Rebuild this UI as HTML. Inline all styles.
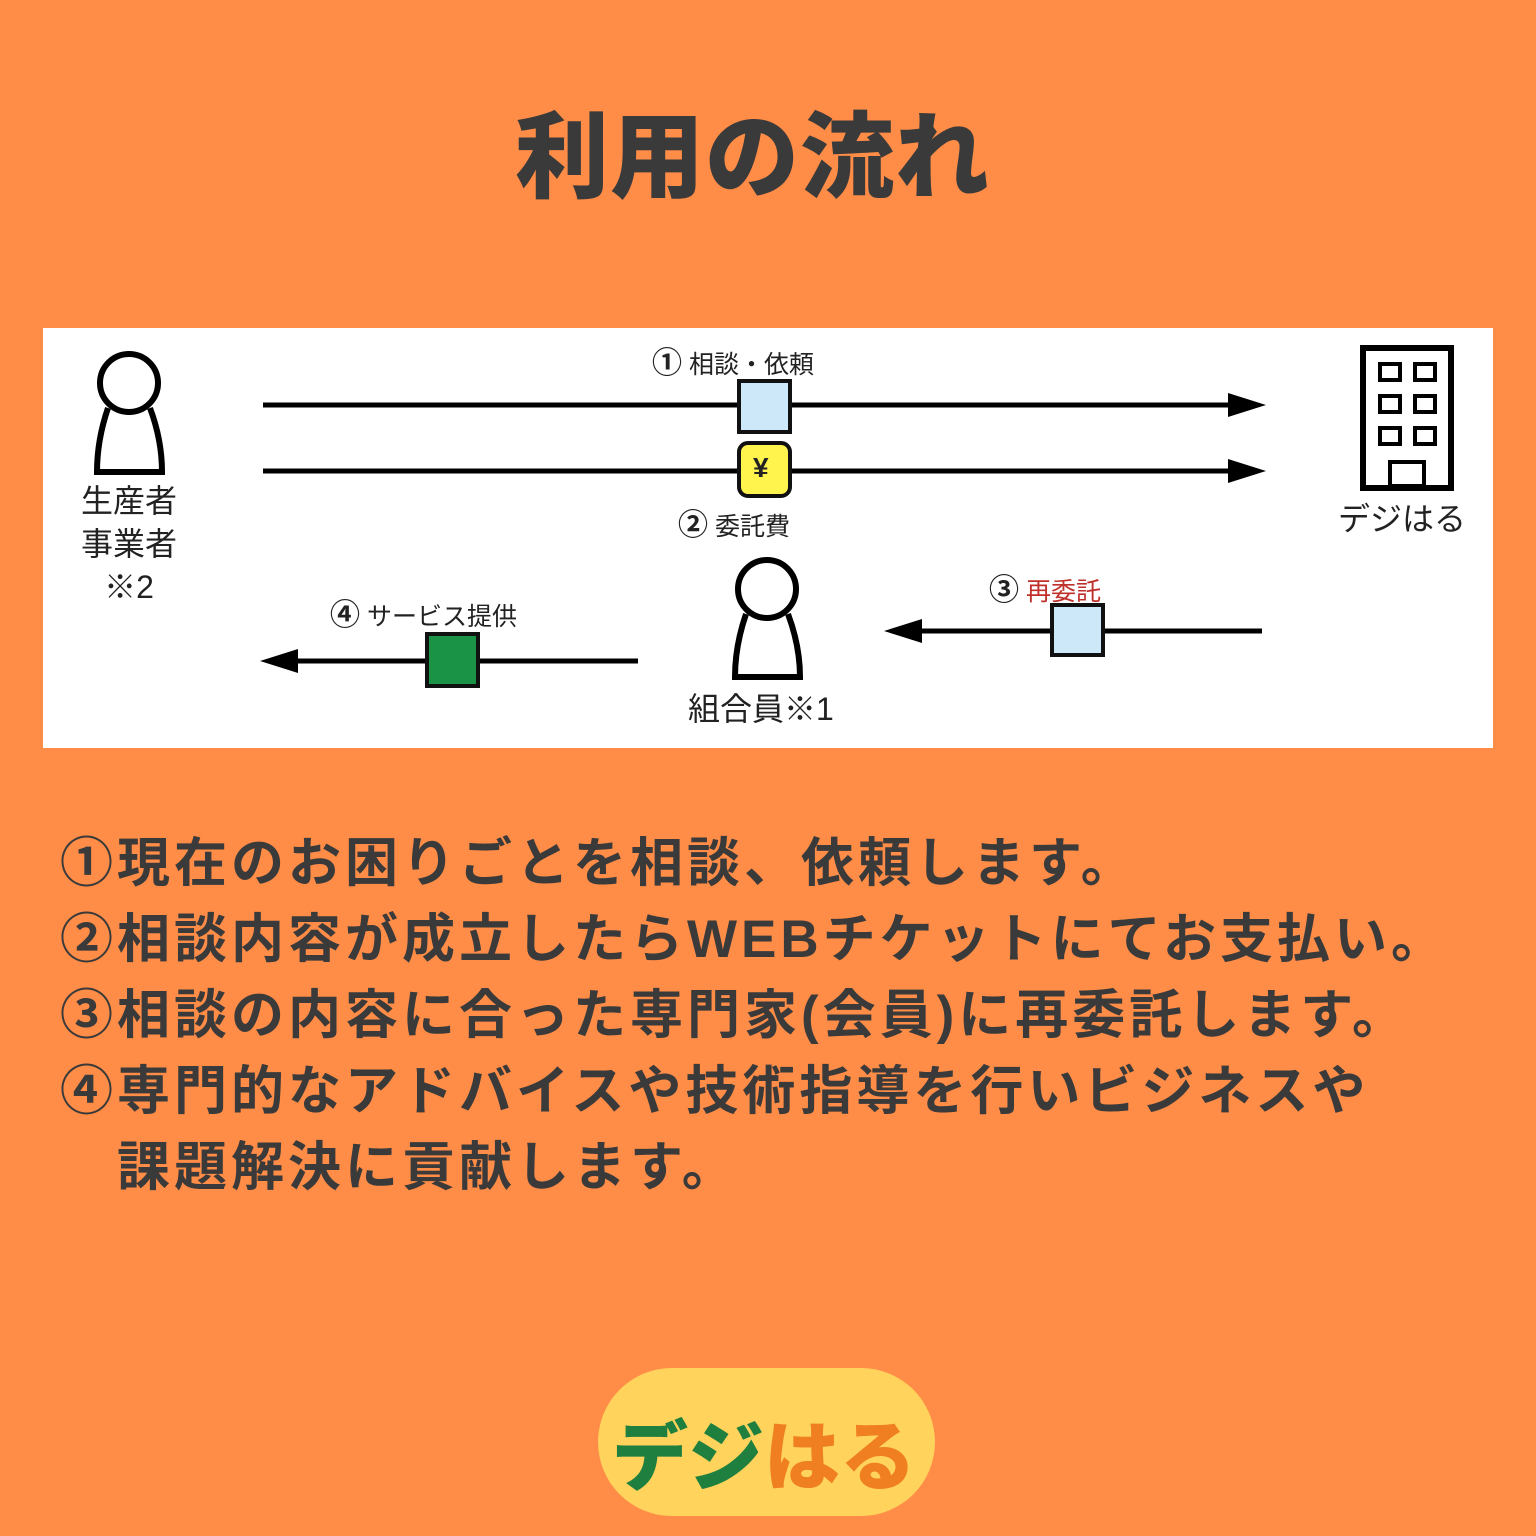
<!DOCTYPE html>
<html><head><meta charset="utf-8"><style>
body{margin:0;width:1536px;height:1536px;background:#FF8C47;position:relative;overflow:hidden;font-family:"Liberation Sans","Noto Sans CJK JP",sans-serif;color:#333}
.t{position:absolute;white-space:nowrap}
</style></head><body>
<div class="t" style="left:515px;top:82px;font-size:94px;font-weight:900;letter-spacing:1px;color:#3a3a3a">利用の流れ</div>
<svg style="position:absolute;left:0;top:0" width="1536" height="1536">
<rect x="43" y="328" width="1450" height="420" fill="#fff"/>
<g fill="none" stroke="#000" stroke-width="6">
<circle cx="129" cy="383" r="29"/>
<path d="M108 408 Q97 440 97 472 L162 472 Q162 440 150 408"/>
<circle cx="767" cy="589" r="29"/>
<path d="M746 614 Q735 646 735 677 L800 677 Q800 646 788 614"/>
<rect x="1363" y="348" width="88" height="140"/>
</g>
<g fill="none" stroke="#000" stroke-width="4">
<rect x="1380" y="364" width="20" height="16"/><rect x="1415" y="364" width="20" height="16"/>
<rect x="1380" y="396" width="20" height="16"/><rect x="1415" y="396" width="20" height="16"/>
<rect x="1380" y="428" width="20" height="16"/><rect x="1415" y="428" width="20" height="16"/>
<rect x="1390" y="462" width="34" height="24"/>
</g>
<g stroke="#000" stroke-width="5">
<line x1="263" y1="405" x2="1235" y2="405"/>
<line x1="263" y1="471" x2="1235" y2="471"/>
<line x1="915" y1="631" x2="1262" y2="631"/>
<line x1="290" y1="661" x2="638" y2="661"/>
</g>
<g fill="#000">
<polygon points="1266,405 1228,393 1228,417"/>
<polygon points="1266,471 1228,459 1228,483"/>
<polygon points="884,631 922,619 922,643"/>
<polygon points="260,661 298,649 298,673"/>
</g>
<rect x="739" y="381" width="51" height="51" fill="#CDE8F8" stroke="#111" stroke-width="4"/>
<rect x="739" y="443" width="51" height="53" rx="9" fill="#FFF44D" stroke="#111" stroke-width="4"/>
<rect x="1052" y="605" width="51" height="50" fill="#CDE8F8" stroke="#111" stroke-width="4"/>
<rect x="427" y="634" width="51" height="52" fill="#1B9347" stroke="#111" stroke-width="4"/>
<rect x="598" y="1368" width="337" height="148" rx="74" fill="#FFD35C"/>
</svg>
<div class="t" style="left:753px;top:452px;font-size:28px;font-weight:bold;color:#222">¥</div>
<div class="t" style="left:652px;top:338px;font-size:25px;color:#222"><b style="font-size:30px">①</b> 相談・依頼</div>
<div class="t" style="left:678px;top:500px;font-size:25px;color:#222"><b style="font-size:30px">②</b> 委託費</div>
<div class="t" style="left:989px;top:565px;font-size:25px;color:#222"><b style="font-size:30px">③</b> <span style="color:#C0302A">再委託</span></div>
<div class="t" style="left:330px;top:590px;font-size:25px;color:#222"><b style="font-size:30px">④</b> サービス提供</div>
<div class="t" style="left:76px;top:480px;font-size:32px;line-height:43px;text-align:center;color:#222;width:106px">生産者<br>事業者<br>※2</div>
<div class="t" style="left:688px;top:684px;font-size:32px;color:#222">組合員※1</div>
<div class="t" style="left:1338px;top:494px;font-size:32px;color:#222">デジはる</div>
<div class="t" style="left:60px;top:826px;font-size:53px;line-height:76px;font-weight:bold;letter-spacing:4px;color:#3a3a3a">①現在のお困りごとを相談、依頼します。<br>②相談内容が成立したらWEBチケットにてお支払い。<br>③相談の内容に合った専門家(会員)に再委託します。<br>④専門的なアドバイスや技術指導を行いビジネスや<br>　課題解決に貢献します。</div>
<div class="t" style="left:612px;top:1396px;font-size:76px;font-weight:900;letter-spacing:0px"><span style="color:#1E7F3E">デジ</span><span style="color:#F07F22">はる</span></div>
</body></html>
